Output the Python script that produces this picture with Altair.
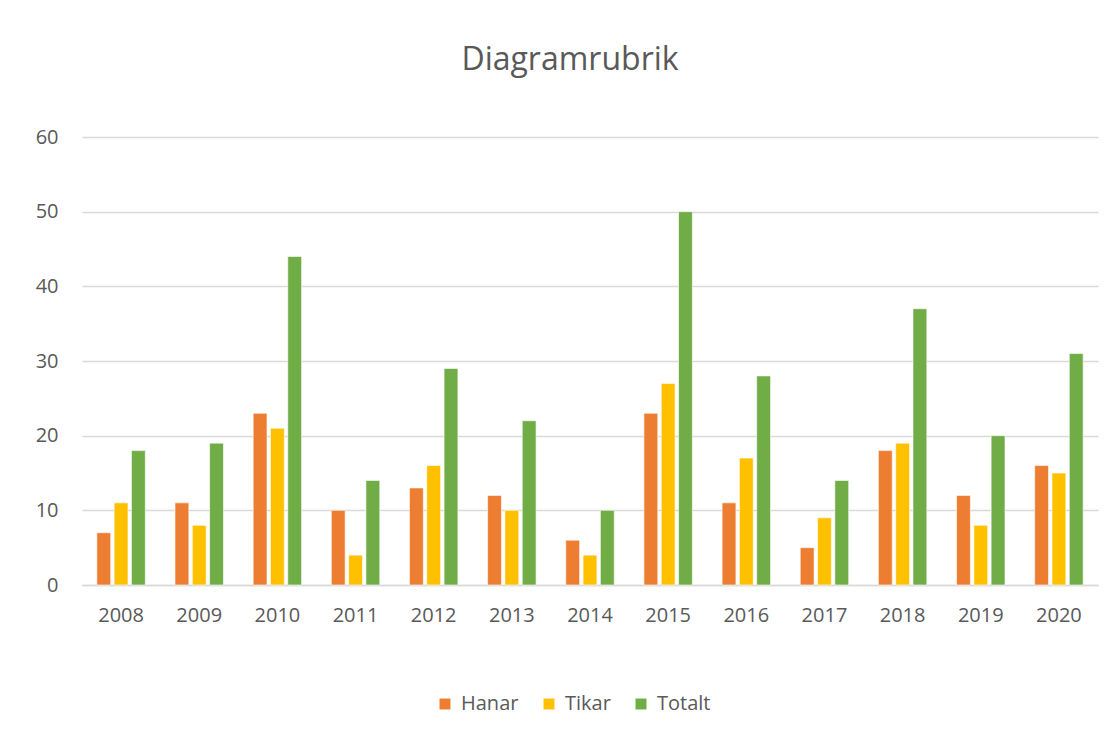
import altair as alt
import pandas as pd

years = ["2008", "2009", "2010", "2011", "2012", "2013", "2014",
         "2015", "2016", "2017", "2018", "2019", "2020"]
hanar = [7, 11, 23, 10, 13, 12, 6, 23, 11, 5, 18, 12, 16]
tikar = [11, 8, 21, 4, 16, 10, 4, 27, 17, 9, 19, 8, 15]
totalt = [18, 19, 44, 14, 29, 22, 10, 50, 28, 14, 37, 20, 31]
series = ["Hanar", "Tikar", "Totalt"]
colors = ["#ED7D31", "#FFC000", "#70AD47"]

rows = []
for i, y in enumerate(years):
    for s, vals in zip(series, [hanar, tikar, totalt]):
        rows.append({"År": y, "Serie": s, "Värde": vals[i]})
df = pd.DataFrame(rows)

FONT = "Open Sans"
GREY = "#595959"

chart = alt.Chart(df).mark_bar(stroke="white", strokeWidth=0.6).encode(
    x=alt.X("År:N", sort=years, title=None,
            scale=alt.Scale(paddingInner=0.38, paddingOuter=0.19),
            axis=alt.Axis(labelAngle=0, labelFontSize=20, labelColor=GREY,
                          labelFont=FONT, labelPadding=20, ticks=False,
                          domainColor="#d9d9d9", domainWidth=1.5, grid=False)),
    xOffset=alt.XOffset("Serie:N", sort=series,
                        scale=alt.Scale(paddingInner=0.2)),
    y=alt.Y("Värde:Q", title=None,
            scale=alt.Scale(domain=[0, 60]),
            axis=alt.Axis(values=[0, 10, 20, 30, 40, 50, 60], labelFontSize=20,
                          labelColor=GREY, labelFont=FONT, labelPadding=24,
                          ticks=False, domain=False, gridColor="#d9d9d9",
                          gridWidth=1.5)),
    color=alt.Color("Serie:N", sort=series,
                    scale=alt.Scale(domain=series, range=colors),
                    legend=alt.Legend(title=None, orient="none", direction="horizontal",
                                      legendX=353, legendY=557,
                                      symbolType="square", symbolSize=120,
                                      symbolStrokeWidth=0,
                                      labelFontSize=20, labelColor=GREY,
                                      labelFont=FONT, columnPadding=20,
                                      labelOffset=6)),
).properties(
    width=1016,
    height=448,
    title=alt.TitleParams("Diagramrubrik", fontSize=32, font=FONT,
                          fontWeight="normal", color=GREY, anchor="middle",
                          offset=50, dx=-20),
    autosize=alt.AutoSizeParams(type="none"),
    padding={"left": 74, "top": 129, "right": 13, "bottom": 138},
).configure_view(stroke=None)

chart.save("out.html", embed_options={"renderer": "svg", "actions": False})
